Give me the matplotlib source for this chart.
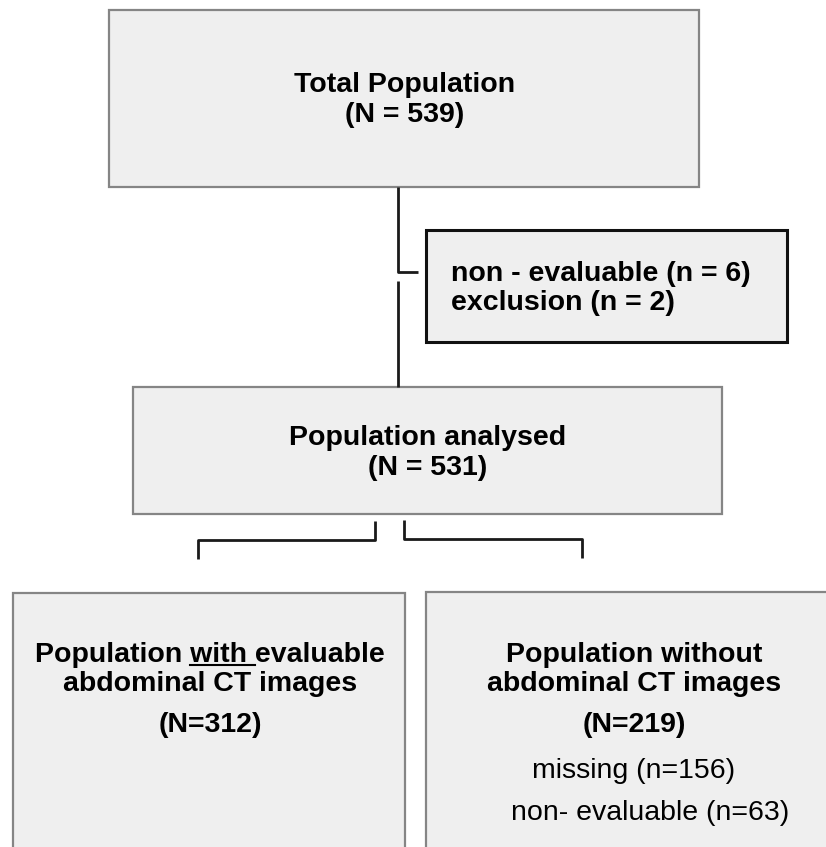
import matplotlib.pyplot as plt
from matplotlib.patches import Rectangle

# texts of the flowchart
top_lines = ["Total Population", "(N = 539)"]
side_lines = ["non - evaluable (n = 6)", "exclusion (n = 2)"]
mid_lines = ["Population analysed", "(N = 531)"]
left_lines = ["Population with evaluable", "abdominal CT images", "(N=312)"]
right_lines = ["Population without", "abdominal CT images", "(N=219)"]
right_sub = ["missing (n=156)", "non- evaluable (n=63)"]

FAM = ["Liberation Sans", "Arial", "DejaVu Sans"]
FILL = "#efefef"

fig = plt.figure(figsize=(8.26, 8.47), dpi=100)
ax = fig.add_axes([0, 0, 1, 1])
ax.set_xlim(0, 826)
ax.set_ylim(847, 0)
ax.axis("off")


def box(x0, y0, x1, y1, ec="#858585", lw=1.6):
    ax.add_patch(Rectangle((x0, y0), x1 - x0, y1 - y0, facecolor=FILL,
                           edgecolor=ec, linewidth=lw, zorder=1))


def line(xs, ys):
    ax.plot(xs, ys, color="#1a1a1a", lw=2.0, solid_capstyle="butt", zorder=2)


def write(x, y, s, ha="center", bold=True):
    ax.text(x, y, s, ha=ha, va="baseline", fontsize=fs,
            fontweight="bold" if bold else "normal", family=FAM)


# boxes
box(109, 10, 699, 187)
box(426, 230, 787, 342, ec="#111111", lw=2.2)
box(133, 387, 722, 514)
box(13, 593, 405, 860)
box(426, 592, 840, 860)

# connectors
line([398, 398, 418], [187, 272, 272])
line([398, 398], [281, 387])
line([375, 375, 198, 198], [521, 540, 540, 559])
line([404, 404, 582, 582], [520, 539, 539, 558])

fs = 20.5
for txt, y in zip(top_lines, [92, 122]):
    write(405, y, txt)
for txt, y in zip(side_lines, [281, 310]):
    write(451, y, txt, ha="left")
for txt, y in zip(mid_lines, [445, 475]):
    write(428, y, txt)

ys_bottom = [662, 691, 732]
for txt, y in zip(left_lines, ys_bottom):
    write(210, y, txt)
for txt, y in zip(right_lines, ys_bottom):
    write(634, y, txt)
write(634, 778, right_sub[0], bold=False)
write(650, 820, right_sub[1], bold=False)

# underline the word "with"
fig.canvas.draw()
r = fig.canvas.get_renderer()
inv = ax.transData.inverted()


def width_px(s):
    t = ax.text(0, 0, s, fontsize=fs, fontweight="bold", family=FAM)
    w = t.get_window_extent(r).width
    t.remove()
    return w


full = width_px(left_lines[0])
pre = width_px("Population ")
word = width_px("with ")
x0_disp = ax.transData.transform((210, 0))[0] - full / 2 + pre
x0 = inv.transform((x0_disp, 0))[0]
x1 = inv.transform((x0_disp + word, 0))[0]
ax.plot([x0, x1], [665.5, 665.5], color="black", lw=1.5, zorder=3)

fig.savefig("out.png", dpi=100, facecolor="white")
